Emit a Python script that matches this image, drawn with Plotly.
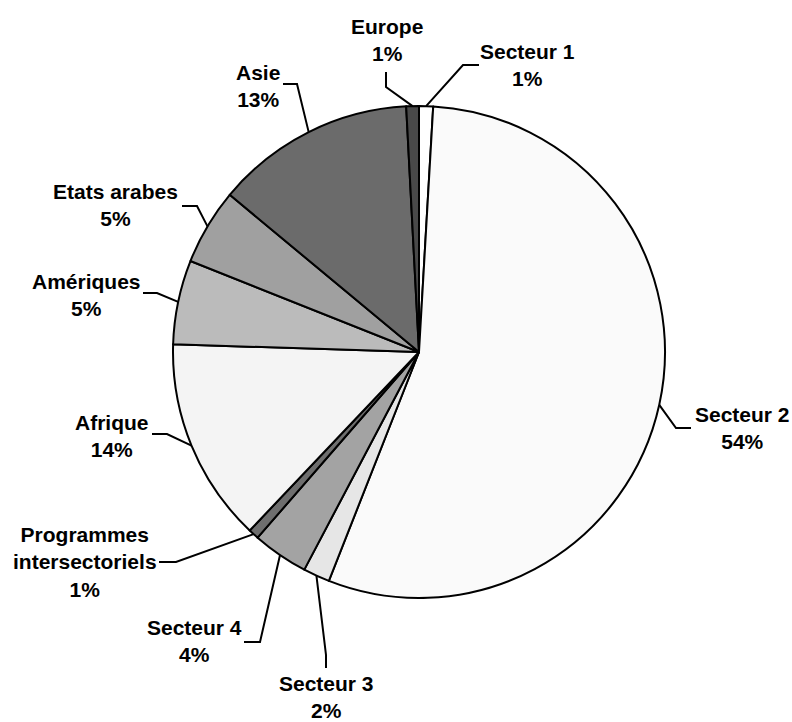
import math
import plotly.graph_objects as go

# ---- data ----
categories = ["Secteur 1", "Secteur 2", "Secteur 3", "Secteur 4",
              "Programmes<br>intersectoriels", "Afrique", "Amériques",
              "Etats arabes", "Asie", "Europe"]
values = [0.92, 55.05, 1.75, 3.67, 0.69, 13.42, 5.53, 5.0, 13.14, 0.83]
pct_labels = ["1%", "54%", "2%", "4%", "1%", "14%", "5%", "5%", "13%", "1%"]

# ---- style ----
colors = ["#FFFFFF", "#FAFAFA", "#E6E6E6", "#A3A3A3", "#6E6E6E",
          "#F4F4F4", "#BBBBBB", "#A0A0A0", "#6B6B6B", "#494949"]
W, H = 792, 722
CX, CY, R = 419, 352, 246
FONT = "Liberation Sans, Arial, sans-serif"
FS = 21

# label block centres and leader-line start/elbow points (pixels)
label_pos = [(527, 65), (742, 428), (326, 697), (194, 641), (85, 562),
             (112, 436), (86, 295), (115, 205), (258, 86), (387, 40)]
leader_pts = [((479, 65), (463, 65)), ((691, 428), (676, 428)),
              ((326, 668), (326, 655)), ((244, 642), (260, 642)),
              ((159, 562), (176, 562)), ((152, 434), (167, 434)),
              ((143, 293), (157, 293)), ((182, 206), (197, 206)),
              ((283, 84), (297, 84)), ((386, 72), (386, 87))]

fig = go.Figure()
fig.add_trace(go.Pie(
    labels=categories, values=values, sort=False, direction="clockwise",
    rotation=0, textinfo="none", hoverinfo="skip",
    marker=dict(colors=colors, line=dict(color="black", width=2)),
    domain=dict(x=[(CX - R) / W, (CX + R) / W],
                y=[(H - CY - R) / H, (H - CY + R) / H]),
    showlegend=False,
))

total = sum(values)
cum = 0.0
for i, v in enumerate(values):
    mid = (cum + v / 2) / total * 360.0
    cum += v
    a = math.radians(mid)
    ex = CX + R * math.sin(a)
    ey = CY - R * math.cos(a)
    (sx, sy), (bx, by) = leader_pts[i]
    fig.add_trace(go.Scatter(
        x=[sx, bx, ex], y=[sy, by, ey], mode="lines",
        line=dict(color="black", width=2), hoverinfo="skip",
        showlegend=False))
    lx, ly = label_pos[i]
    fig.add_annotation(
        x=lx, y=ly, xref="x", yref="y", showarrow=False,
        text=f"{categories[i]}<br>{pct_labels[i]}",
        xanchor="center", yanchor="middle", align="center",
        font=dict(family=FONT, size=FS, color="black", weight="bold"))

fig.update_layout(
    width=W, height=H, margin=dict(l=0, r=0, t=0, b=0),
    paper_bgcolor="white", plot_bgcolor="rgba(0,0,0,0)",
    xaxis=dict(range=[0, W], visible=False, fixedrange=True, domain=[0, 1]),
    yaxis=dict(range=[H, 0], visible=False, fixedrange=True, domain=[0, 1]),
)

fig.write_html("out.html",
               config={"displayModeBar": False, "staticPlot": True},
               post_script="document.body.style.margin='0';"
                           "document.body.style.overflow='hidden';")
